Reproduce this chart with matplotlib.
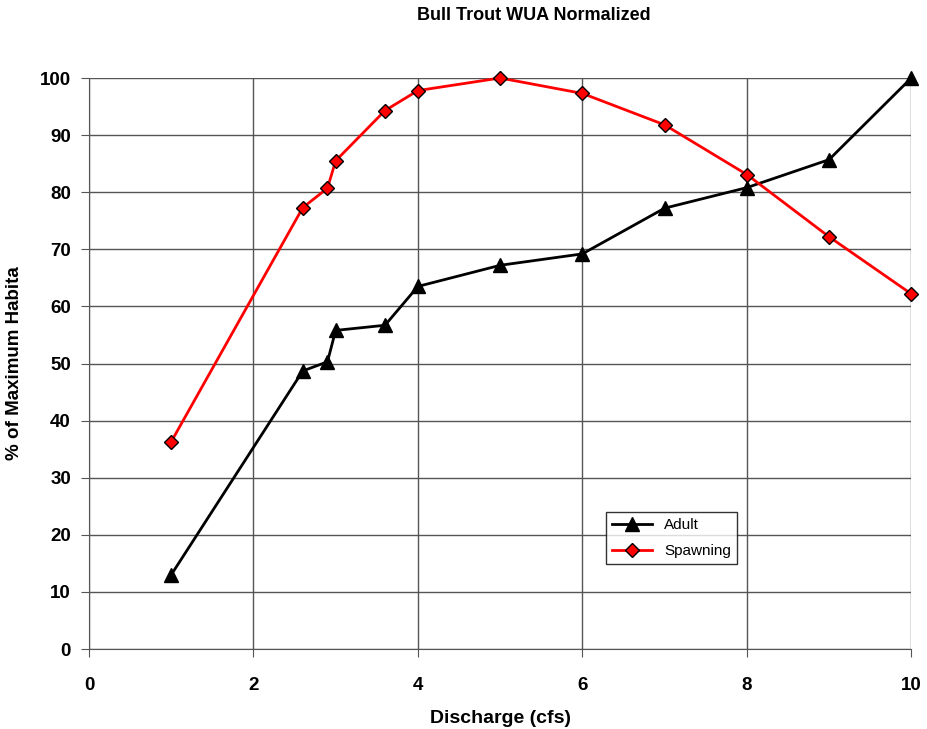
import matplotlib.pyplot as plt

plt.rcParams['font.family'] = ['Liberation Sans', 'DejaVu Sans']

discharge = [1, 2.6, 2.9, 3.0, 3.6, 4, 5, 6, 7, 8, 9, 10]
adult = [13.0, 48.7, 50.3, 55.8, 56.7, 63.5, 67.2, 69.2, 77.2, 80.8, 85.7, 100]
spawning = [36.3, 77.3, 80.7, 85.5, 94.3, 97.8, 100, 97.3, 91.8, 83.1, 72.2, 62.2]

fig = plt.figure(figsize=(9.27, 7.29), dpi=100)
ax = fig.add_axes([0.096, 0.1097, 0.887, 0.7833])

ax.plot(discharge, adult, color='black', lw=2, marker='^', ms=10,
        mfc='black', mec='black', label='Adult', zorder=3, clip_on=False)
ax.plot(discharge, spawning, color='red', lw=2, marker='D', ms=7,
        mfc='red', mec='black', mew=1, label='Spawning', zorder=3, clip_on=False)

ax.set_xlim(0, 10)
ax.set_ylim(0, 100)
ax.set_xticks(range(0, 11, 2))
ax.set_yticks(range(0, 101, 10))
ax.grid(True, color='#555555', lw=1)
ax.set_axisbelow(True)
for s in ['top', 'right']:
    ax.spines[s].set_visible(False)
for s in ['left', 'bottom']:
    ax.spines[s].set_color('#555555')
ax.tick_params(direction='out', length=6, color='#555555', labelsize=13.5)
ax.tick_params(axis='x', pad=14)
ax.tick_params(axis='y', pad=7)
for lab in ax.get_xticklabels() + ax.get_yticklabels():
    lab.set_fontweight('bold')

ax.set_xlabel('Discharge (cfs)', fontsize=14, fontweight='bold', labelpad=12)
ax.set_ylabel('% of Maximum Habita', fontsize=13.5, fontweight='bold', labelpad=12)
fig.text(0.576, 0.979, 'Bull Trout WUA Normalized', fontsize=13, fontweight='bold',
         ha='center', va='center')

leg = ax.legend(loc='upper left', bbox_to_anchor=(0.629, 0.24), borderaxespad=0,
                fontsize=11, frameon=True, fancybox=False, edgecolor='black',
                handlelength=2.6, borderpad=0.4, labelspacing=0.8)
leg.get_frame().set_linewidth(1)

fig.savefig('out.png', dpi=100)
